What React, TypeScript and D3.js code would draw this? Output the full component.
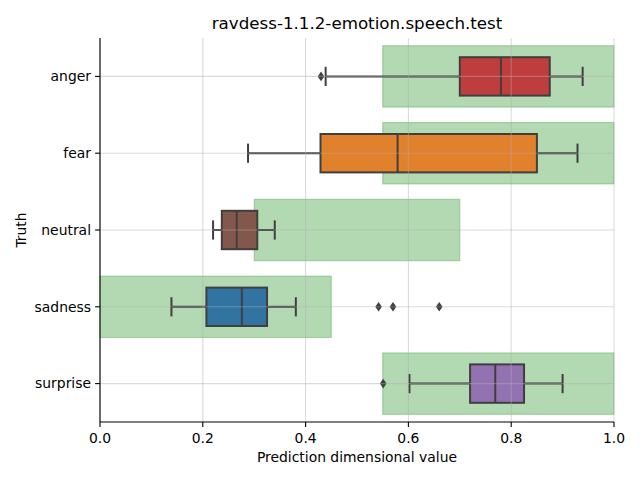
import React from "react";
import * as d3 from "d3";

const categories = ["anger", "fear", "neutral", "sadness", "surprise"];
const colors = ["#c03d3e", "#e1812c", "#84574d", "#3274a1", "#9372b2"];
// box stats: whisker low, q1, median, q3, whisker high
const whiskerLo = [0.439, 0.288, 0.22, 0.139, 0.602];
const q1 = [0.7, 0.429, 0.237, 0.207, 0.72];
const median = [0.78, 0.579, 0.266, 0.276, 0.769];
const q3 = [0.875, 0.85, 0.306, 0.325, 0.825];
const whiskerHi = [0.939, 0.929, 0.34, 0.381, 0.9];
const outliers = [[0.43], [], [], [0.542, 0.57, 0.66], [0.551]];
const rangeLo = [0.55, 0.55, 0.3, 0.0, 0.55];
const rangeHi = [1.0, 1.0, 0.7, 0.45, 1.0];
const xTicks = [0, 0.2, 0.4, 0.6, 0.8, 1.0];

const W = 640, H = 480;
const left = 100, right = 614, top = 38, bottom = 422;
const font = "DejaVu Sans, sans-serif";

export default function App() {
  const x = d3.scaleLinear().domain([0, 1]).range([left, right]);
  const y = d3.scaleBand().domain(categories).range([top, bottom]);
  const step = y.step();
  const cy = (c: string) => (y(c) as number) + step / 2;
  const boxH = step * 0.5;
  const capH = step * 0.25;
  const rangeH = step * 0.8;
  const line = "#3f3f3f";
  const lw = 2;
  return (
    <svg width={W} height={H} style={{ position: "absolute", left: 0, top: 0 }} fontFamily={font}>
      <rect width={W} height={H} fill="white" />
      {categories.map((c, i) => (
        <rect key={"r" + c} x={x(rangeLo[i])} y={cy(c) - rangeH / 2} width={x(rangeHi[i]) - x(rangeLo[i])} height={rangeH}
          fill="rgb(0,128,0)" fillOpacity={0.3} stroke="rgb(0,128,0)" strokeOpacity={0.25} strokeWidth={1.2} />
      ))}
      {categories.map((c, i) => {
        const yc = cy(c);
        return (
          <g key={"b" + c}>
            <line x1={x(whiskerLo[i])} x2={x(q1[i])} y1={yc} y2={yc} stroke={line} strokeWidth={lw} />
            <line x1={x(q3[i])} x2={x(whiskerHi[i])} y1={yc} y2={yc} stroke={line} strokeWidth={lw} />
            <line x1={x(whiskerLo[i])} x2={x(whiskerLo[i])} y1={yc - capH / 2} y2={yc + capH / 2} stroke={line} strokeWidth={lw} />
            <line x1={x(whiskerHi[i])} x2={x(whiskerHi[i])} y1={yc - capH / 2} y2={yc + capH / 2} stroke={line} strokeWidth={lw} />
            <rect x={x(q1[i])} y={yc - boxH / 2} width={x(q3[i]) - x(q1[i])} height={boxH} fill={colors[i]} stroke={line} strokeWidth={lw} />
            <line x1={x(median[i])} x2={x(median[i])} y1={yc - boxH / 2} y2={yc + boxH / 2} stroke={line} strokeWidth={lw} />
            {outliers[i].map((o, j) => (
              <path key={j} d={`M${x(o)},${yc - 4.8} L${x(o) + 3.3},${yc} L${x(o)},${yc + 4.8} L${x(o) - 3.3},${yc} Z`} fill={line} />
            ))}
          </g>
        );
      })}
      {/* grid */}
      {xTicks.map((t) => (
        <line key={"gx" + t} x1={x(t)} x2={x(t)} y1={top} y2={bottom} stroke="#b0b0b0" strokeOpacity={0.45} strokeWidth={1.1} />
      ))}
      {categories.map((c) => (
        <line key={"gy" + c} x1={left} x2={right} y1={cy(c)} y2={cy(c)} stroke="#b0b0b0" strokeOpacity={0.45} strokeWidth={1.1} />
      ))}
      {/* spines */}
      <line x1={left} x2={left} y1={top} y2={bottom} stroke="black" strokeWidth={1.1} />
      <line x1={left} x2={right} y1={bottom} y2={bottom} stroke="black" strokeWidth={1.1} />
      {xTicks.map((t) => (
        <g key={"xt" + t}>
          <line x1={x(t)} x2={x(t)} y1={bottom} y2={bottom + 4.9} stroke="black" strokeWidth={1.1} />
          <text x={x(t)} y={bottom + 21} fontSize={13.9} textAnchor="middle" fill="black">{t.toFixed(1)}</text>
        </g>
      ))}
      {categories.map((c) => (
        <g key={"yt" + c}>
          <line x1={left - 4.9} x2={left} y1={cy(c)} y2={cy(c)} stroke="black" strokeWidth={1.1} />
          <text x={left - 9} y={cy(c)} dy="0.35em" fontSize={13.9} textAnchor="end" fill="black">{c}</text>
        </g>
      ))}
      <text x={(left + right) / 2} y={462} fontSize={13.9} textAnchor="middle" fill="black">Prediction dimensional value</text>
      <text transform={`translate(26,${(top + bottom) / 2}) rotate(-90)`} fontSize={13.9} textAnchor="middle" fill="black">Truth</text>
      <text x={(left + right) / 2} y={29} fontSize={16.7} textAnchor="middle" fill="black">ravdess-1.1.2-emotion.speech.test</text>
    </svg>
  );
}
